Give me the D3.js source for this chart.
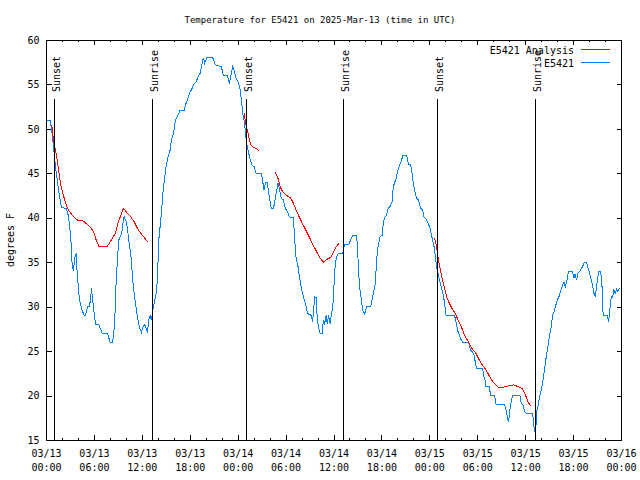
<!DOCTYPE html>
<html><head><meta charset="utf-8">
<script src="https://cdn.jsdelivr.net/npm/d3@7"></script>
<style>
body{margin:0;background:#fff;}
svg text{font-family:"DejaVu Sans Mono",monospace;font-size:10px;fill:#000;}
</style></head><body>
<svg id="c" width="640" height="480"></svg>
<script>
// ---- data (hours after 2025-03-13 00:00 UTC, degrees F) ----
const baseTime = Date.UTC(2025, 2, 13);
const spanHours = 72;
const yTicks = [15, 20, 25, 30, 35, 40, 45, 50, 55, 60];
const seriesNames = ["E5421 Analysis", "E5421"];
const sunEvents = [
  [0.98, "Sunset"], [13.25, "Sunrise"], [25.07, "Sunset"],
  [37.17, "Sunrise"], [48.94, "Sunset"], [61.26, "Sunrise"]
];
const stationReadings = [
[0.15,51],[0.53,51],[0.69,50],[0.94,48],[1.19,45.7],[1.40,44.3],[1.69,42.4],[1.94,41.2],[2.53,41],[2.78,40.3],[2.94,39.2],[3.10,37.9],[3.19,36],[3.28,34.7],[3.44,34],[3.60,35.5],[3.78,36],[3.90,33.8],[4.11,31.5],[4.28,30.4],[4.53,29.6],[4.78,29],[4.94,29],[5.19,30],[5.44,30],[5.61,31.1],[5.69,32.1],[5.86,30.6],[6.03,29.3],[6.20,28],[6.61,28],[6.78,27.6],[7.03,27],[7.70,27],[7.86,26.5],[8.04,26],[8.29,26],[8.45,26.6],[8.61,28.5],[8.79,33],[8.95,35.3],[9.11,37.5],[9.36,38],[9.54,38.6],[9.70,39.9],[9.79,40.1],[10.04,39.6],[10.20,38.8],[10.36,37.5],[10.61,36],[10.86,33],[11.04,31.5],[11.29,29.8],[11.45,28.9],[11.70,27.7],[11.95,27.1],[12.11,27.7],[12.37,28],[12.54,27.6],[12.70,27.1],[12.87,28.5],[13.04,29],[13.20,28.5],[13.37,29.6],[13.54,30.4],[13.79,31.5],[13.95,33],[14.12,37.5],[14.37,39.75],[14.54,41.6],[14.71,43.5],[14.87,44.6],[15.04,45.75],[15.29,46.9],[15.54,47.6],[15.71,48.75],[15.96,49.5],[16.21,51],[16.46,51.4],[16.80,52.1],[17.30,52.1],[17.46,52.7],[17.71,53.25],[17.96,54],[18.21,54.4],[18.55,55.1],[18.80,55.3],[19.05,55.9],[19.30,56.25],[19.55,57.4],[19.71,58],[19.87,57.4],[20.13,58],[20.88,58],[21.21,57.2],[21.96,57],[22.21,56],[22.72,56],[22.97,55.1],[23.13,55.9],[23.38,57],[23.55,56.6],[23.80,55.7],[24.05,55.3],[24.31,54.4],[24.47,53.25],[24.63,51.75],[24.88,50.6],[24.97,49.5],[25.13,48.4],[25.31,47.6],[25.56,46.5],[25.81,45.9],[26.06,45.75],[26.31,45],[26.97,45],[27.13,44.1],[27.31,43.1],[27.47,43.95],[27.72,44],[27.88,42.75],[28.06,41.8],[28.22,41.05],[28.47,41],[28.64,41.8],[28.89,43.1],[29.06,43.9],[29.22,43.3],[29.47,42.2],[29.72,42],[29.97,41.05],[30.22,40.7],[30.48,40.1],[30.98,40],[31.14,37.5],[31.31,35.6],[31.56,34.5],[31.73,33.4],[31.98,32.1],[32.23,31.1],[32.48,30.4],[32.73,29.25],[33.23,29],[33.39,28.3],[33.64,31.1],[33.82,31],[33.98,28.5],[34.14,27.6],[34.32,27],[34.57,27],[34.73,28.5],[34.89,28.1],[35.07,29],[35.23,28.1],[35.39,29],[35.57,28.1],[35.82,29.6],[35.98,30.75],[36.15,34.1],[36.32,35.25],[36.48,35.8],[36.65,36],[37.15,36],[37.40,37],[37.90,37],[38.15,37.5],[38.40,38],[38.82,38],[38.99,37.1],[39.15,33.75],[39.32,31.9],[39.49,30.75],[39.65,29.6],[39.90,29.2],[40.15,30],[40.65,30],[40.83,30.75],[40.99,31.5],[41.24,32.6],[41.40,35.25],[41.58,36.75],[41.83,37.9],[42.08,38],[42.24,39.4],[42.40,40.05],[42.65,40.3],[42.83,41.05],[43.08,41.25],[43.33,41.8],[43.49,43.5],[43.65,43.95],[43.83,44.4],[44.08,45.4],[44.33,46.05],[44.49,46.3],[44.66,47],[45.16,47],[45.41,46],[45.66,46],[45.83,45],[45.99,43.9],[46.16,43.1],[46.41,42.2],[46.66,42],[46.91,41.05],[47.16,40.9],[47.33,40.1],[47.58,39.9],[47.83,39.45],[48.09,38.8],[48.25,38.1],[48.41,37.5],[48.59,36.75],[48.75,35.6],[48.91,34.5],[49.09,33.75],[49.25,33],[49.50,32.25],[49.75,31.3],[49.91,30.4],[50.09,29],[51.16,29],[51.34,28.3],[51.59,27.2],[51.75,26.9],[51.91,26.4],[52.16,26],[52.92,26],[53.17,25.1],[53.42,24.9],[53.59,24.6],[53.75,23.8],[53.92,23],[54.67,23],[54.84,22.1],[55.01,21.6],[55.09,21],[55.51,21],[55.67,20],[56.17,20],[56.35,19],[57.42,19],[57.60,18.4],[57.76,17.7],[57.92,17],[58.10,18.45],[58.26,19.3],[58.42,20],[59.35,20],[59.51,19.1],[59.76,18.9],[59.92,18.2],[60.18,18],[60.93,18],[61.10,16.5],[61.20,15.9],[61.35,16.5],[61.43,18.2],[61.60,18.75],[61.76,19.7],[62.02,20.6],[62.27,21.9],[62.52,23.6],[62.68,24.6],[62.85,25.5],[63.02,26.55],[63.27,27.75],[63.43,29],[63.68,29.6],[63.85,30.2],[64.02,30.75],[64.27,31.2],[64.43,31.7],[64.68,32.4],[64.86,32.8],[65.02,32.25],[65.18,32.7],[65.43,34],[65.93,34],[66.11,33.2],[66.27,33.7],[66.43,33],[66.61,33.75],[66.86,34],[67.18,34.5],[67.43,35],[67.68,35],[67.86,34.4],[68.11,33.6],[68.27,33],[68.43,32.4],[68.61,31.5],[68.77,31.1],[68.94,32.25],[69.11,33.4],[69.18,34],[69.44,34],[69.61,32.6],[69.69,30.4],[69.77,29],[70.28,29],[70.44,28.3],[70.53,29],[70.69,30.4],[70.78,31.1],[70.94,31],[71.12,31.9],[71.28,31.5],[71.44,32],[71.61,31.7],[71.78,32.1]
];
const analysisReadings = [
[0.73,50.4],[0.94,48.75],[1.19,47.6],[1.44,46.3],[1.60,45.2],[1.85,43.7],[2.10,42.75],[2.35,42],[2.69,41.05],[3.10,40.5],[3.69,39.9],[3.94,39.75],[4.53,39.7],[4.78,39.55],[5.11,39.3],[5.36,39.1],[5.69,38.8],[6.03,38.25],[6.28,37.5],[6.61,36.8],[7.70,36.8],[8.04,37.3],[8.45,37.9],[8.70,38.25],[8.95,39.2],[9.29,40.1],[9.54,40.7],[9.70,41.05],[10.11,40.6],[10.61,40.1],[11.04,39.55],[11.45,38.8],[11.86,38.25],[12.29,37.8],[12.70,37.3],
null,
[24.81,51.75],[25.06,50.4],[25.31,49.5],[25.47,48.75],[25.63,48.2],[25.88,48],[26.31,47.8],[26.72,47.5],
null,
[28.72,45.1],[29.06,44.4],[29.31,43.5],[29.64,42.9],[30.06,42.55],[30.64,42.2],[30.89,41.8],[31.31,40.9],[31.73,40.05],[32.14,39.3],[32.57,38.55],[32.98,37.8],[33.39,37.05],[33.82,36.3],[34.23,35.6],[34.73,35],[35.14,35.3],[35.64,35.55],[35.98,36.1],[36.32,36.7],[36.65,37.1],
null,
[48.66,37.7],[48.91,36.75],[49.09,35.6],[49.25,34.7],[49.50,33.6],[49.75,32.6],[50.00,31.7],[50.25,30.9],[50.50,30.4],[50.84,29.8],[51.25,29.25],[51.59,28.5],[52.00,27.75],[52.41,26.8],[52.84,26.1],[53.25,25.4],[53.84,24.75],[54.25,24],[54.67,23.4],[55.09,22.9],[55.51,22.2],[55.92,21.6],[56.35,21.2],[56.67,20.9],[57.00,20.9],[57.60,21],[58.01,21.1],[58.60,21.2],[59.10,21],[59.60,20.8],[59.85,20.4],[60.10,19.9],[60.35,19.3],[60.68,18.8]
];
const colors = ["#ff0000", "#0080ff"];

// ---- chart ----
const toDate = h => new Date(baseTime + h * 3600e3);
const svg = d3.select("#c");
const x = d3.scaleUtc().domain([toDate(0), toDate(spanHours)]).range([46, 621]);
const y = d3.scaleLinear().domain([15, 60]).range([440, 40]);

const majorX = d3.utcHour.every(6).range(toDate(0), toDate(spanHours + 0.01));
const minorX = d3.utcHour.every(2).range(toDate(0), toDate(spanHours + 0.01)).filter(d => d.getUTCHours() % 6 !== 0);

svg.append("text").attr("x", 320).attr("y", 23).attr("text-anchor", "middle")
  .style("font-size", "9px")
  .text("Temperature for E5421 on 2025-Mar-13 (time in UTC)");

// bottom axis
const gB = svg.append("g").attr("transform", "translate(0,440)");
gB.call(d3.axisBottom(x).tickValues(minorX).tickSize(-2).tickFormat(""));
const gB2 = svg.append("g").attr("transform", "translate(0,440)");
gB2.call(d3.axisBottom(x).tickValues(majorX).tickSize(-5).tickFormat(d3.utcFormat("%m/%d")));
gB2.selectAll(".tick text").each(function(d) {
  const t = d3.select(this).attr("dy", null).attr("y", null).text(null);
  t.append("tspan").attr("x", 0).attr("y", 17).text(d3.utcFormat("%m/%d")(d));
  t.append("tspan").attr("x", 0).attr("y", 31).text(d3.utcFormat("%H:%M")(d));
});
// top axis
svg.append("g").attr("transform", "translate(0,40)")
  .call(d3.axisTop(x).tickValues(minorX).tickSize(-2).tickFormat(""));
svg.append("g").attr("transform", "translate(0,40)")
  .call(d3.axisTop(x).tickValues(majorX).tickSize(-5).tickFormat(""));
// left / right
svg.append("g").attr("transform", "translate(46.5,0)")
  .call(d3.axisLeft(y).tickValues(yTicks).tickSize(-5).tickPadding(7));
svg.append("g").attr("transform", "translate(621.5,0)")
  .call(d3.axisRight(y).tickValues(yTicks).tickSize(-5).tickFormat(""));
svg.selectAll(".domain").remove();
svg.selectAll(".tick line").attr("stroke", "#000").attr("shape-rendering", "crispEdges");

svg.append("text").attr("transform", "translate(14,240) rotate(-90)")
  .attr("text-anchor", "middle").text("degrees F");

// data lines
const line = d3.line().defined(d => d !== null)
  .x(d => x(toDate(d[0]))).y(d => y(d[1]));
svg.append("path").datum(stationReadings).attr("d", line)
  .attr("fill", "none").attr("stroke", colors[1]).attr("stroke-width", 1)
  .attr("shape-rendering", "crispEdges");
svg.append("path").datum(analysisReadings).attr("d", line)
  .attr("fill", "none").attr("stroke", colors[0]).attr("stroke-width", 1)
  .attr("shape-rendering", "crispEdges");

// sun events
const ev = svg.append("g");
sunEvents.forEach(([h, label]) => {
  const xp = Math.round(x(toDate(h))) + 0.5;
  ev.append("line").attr("x1", xp).attr("x2", xp).attr("y1", 99).attr("y2", 440)
    .attr("stroke", "#000").attr("stroke-width", 1).attr("shape-rendering", "crispEdges");
  ev.append("text").attr("transform", `translate(${xp + 5},92) rotate(-90)`)
    .attr("text-anchor", "start").text(label);
});

// border
svg.append("rect").attr("x", 46.5).attr("y", 40.5).attr("width", 575).attr("height", 400)
  .attr("fill", "none").attr("stroke", "#000").attr("shape-rendering", "crispEdges");

// legend
const lg = svg.append("g");
seriesNames.forEach((name, i) => {
  const yy = 49.5 + i * 13;
  lg.append("text").attr("x", 574).attr("y", yy + 4).attr("text-anchor", "end").text(name);
  lg.append("line").attr("x1", 581).attr("x2", 610).attr("y1", yy).attr("y2", yy)
    .attr("stroke", colors[i]).attr("stroke-width", 1).attr("shape-rendering", "crispEdges");
});
</script></body></html>
